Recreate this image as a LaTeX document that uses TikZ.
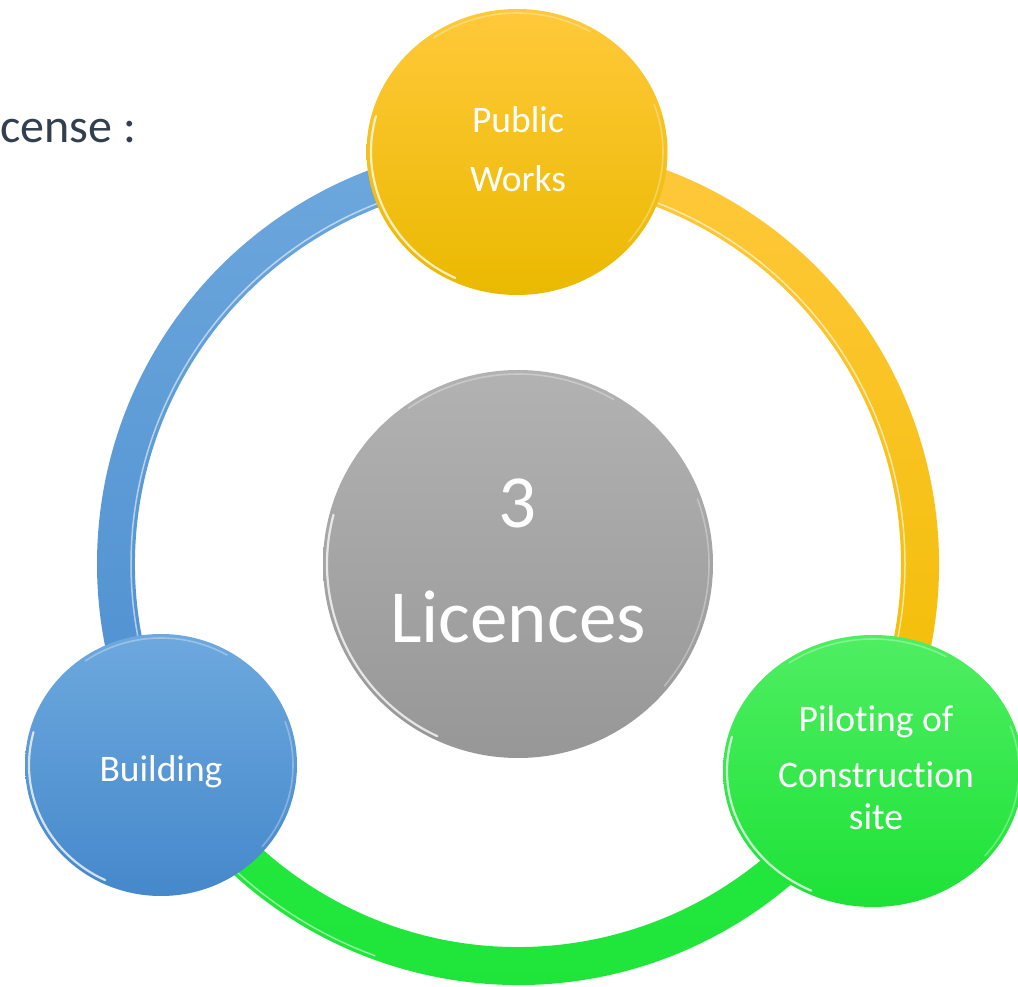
\documentclass[tikz,border=0pt]{standalone}
\usepackage{fontspec}
\setmainfont{Carlito}[Ligatures={NoCommon}]
\usetikzlibrary{shapes.geometric}
\definecolor{pwTop}{HTML}{FFC93A}
\definecolor{pwBot}{HTML}{EAB900}
\definecolor{bdTop}{HTML}{6DA9DE}
\definecolor{bdBot}{HTML}{4588CB}
\definecolor{pcTop}{HTML}{4FEE62}
\definecolor{pcBot}{HTML}{1DE237}
\definecolor{ctTop}{HTML}{B2B2B2}
\definecolor{ctBot}{HTML}{979797}
\definecolor{rbTop}{HTML}{6DA8DD}
\definecolor{rbBot}{HTML}{4C8ECF}
\definecolor{ryTop}{HTML}{FFC83C}
\definecolor{ryBot}{HTML}{F1BD00}
\definecolor{rgTop}{HTML}{24E83D}
\definecolor{rgBot}{HTML}{1EE43A}
\definecolor{titleGray}{HTML}{323F4F}
\tikzset{
  bubble/.style={ellipse, inner sep=0pt, draw=none},
  label36/.style={text=white, font=\fontsize{37.5}{40}\selectfont, anchor=base, inner sep=0pt},
  bigtext/.style={text=white, font=\fontsize{75}{80}\selectfont, anchor=base, inner sep=0pt},
  gloss/.style={white, line width=2.2pt, opacity=0.75, line cap=round},
  glossfaint/.style={white, line width=1.6pt, opacity=0.3, line cap=round},
}
\newcommand{\glossy}[3]{%
  \draw[gloss] ([shift={(165:#2 and #3)}]#1.center) arc[start angle=165,end angle=245,x radius=#2,y radius=#3];
  \draw[glossfaint] ([shift={(60:#2 and #3)}]#1.center) arc[start angle=60,end angle=125,x radius=#2,y radius=#3];
  \draw[glossfaint] ([shift={(-40:#2 and #3)}]#1.center) arc[start angle=-40,end angle=20,x radius=#2,y radius=#3];
}
\begin{document}
\begin{tikzpicture}[x=1pt,y=1pt]
\clip (0,0) rectangle (1018,986);
\fill[white] (0,0) rectangle (1018,986);
\coordinate (O) at (518,422);

% ring segments
\shade[top color=rbTop, bottom color=rbBot]
  ([shift=(90:421)]O) arc[start angle=90,end angle=210,radius=421]
  -- ([shift=(210:383)]O) arc[start angle=210,end angle=90,radius=383] -- cycle;
\shade[top color=ryTop, bottom color=ryBot]
  ([shift=(-30:421)]O) arc[start angle=-30,end angle=90,radius=421]
  -- ([shift=(90:383)]O) arc[start angle=90,end angle=-30,radius=383] -- cycle;
\shade[top color=rgTop, bottom color=rgBot]
  ([shift=(210:421)]O) arc[start angle=210,end angle=330,radius=421]
  -- ([shift=(330:383)]O) arc[start angle=330,end angle=210,radius=383] -- cycle;
% ring highlights
\draw[white, line width=1.5pt, opacity=0.55] ([shift=(95:387)]O) arc[start angle=95,end angle=205,radius=387];
\draw[white, line width=1.5pt, opacity=0.6] ([shift=(-25:387)]O) arc[start angle=-25,end angle=85,radius=387];
\draw[white, line width=1.5pt, opacity=0.5] ([shift=(215:417)]O) arc[start angle=215,end angle=250,radius=417];

% bubbles
\node[bubble, minimum width=301pt, minimum height=286pt, top color=pwTop, bottom color=pwBot] (pw) at (517,834) {};
\node[bubble, minimum width=272pt, minimum height=262pt, top color=bdTop, bottom color=bdBot] (bd) at (161,221) {};
\node[bubble, minimum width=300pt, minimum height=272pt, top color=pcTop, bottom color=pcBot] (pc) at (873,215) {};
\node[bubble, minimum width=390pt, minimum height=388pt, top color=ctTop, bottom color=ctBot] (ct) at (518,422) {};
\glossy{pw}{146}{139}
\glossy{bd}{132}{127}
\glossy{pc}{146}{132}
\glossy{ct}{191}{190}

% texts
\node[label36] (t1) at (518,853) {Public};
\node[label36] (t2) at (518,794) {Works};
\node[label36] (t3) at (161,204) {Building};
\node[label36] (t4) at (876,254) {Piloting of};
\node[label36] (t5) at (876,198) {Construction};
\node[label36] (t6) at (876,156) {site};
\node[bigtext] (t7) at (518,458) {3};
\node[bigtext] (t8) at (518,343) {Licences};
\node[text=titleGray, font=\fontsize{48}{54}\selectfont, anchor=base west, inner sep=0pt] (t9) at (0,843) {cense :};
\end{tikzpicture}
\end{document}
